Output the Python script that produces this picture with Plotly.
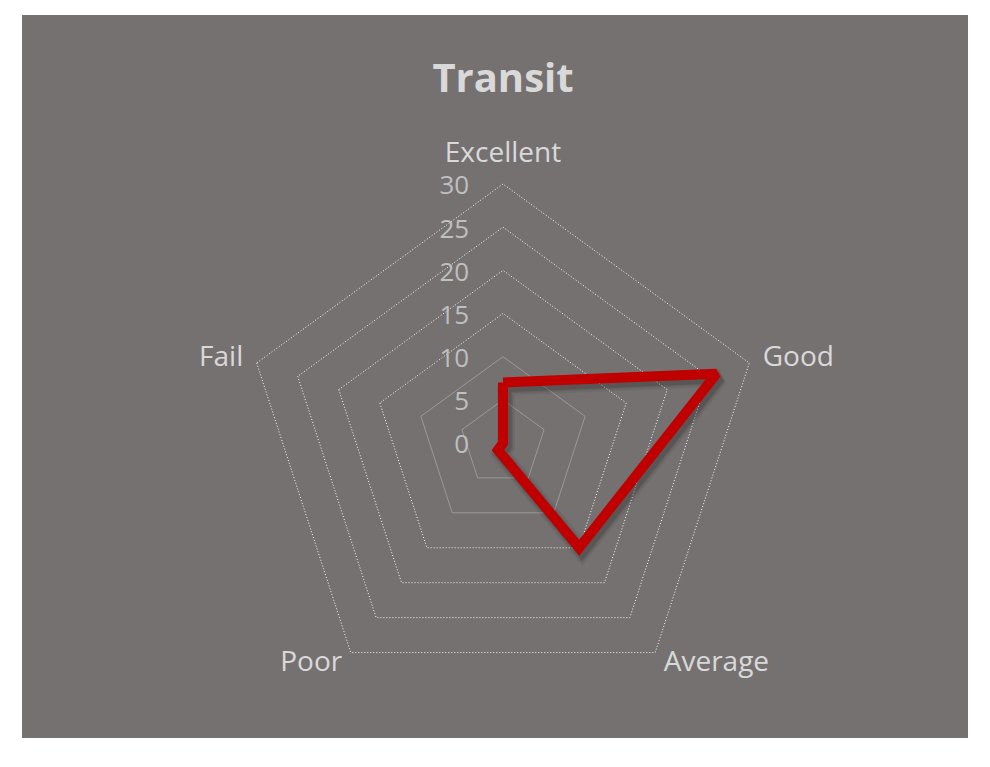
import plotly.graph_objects as go

categories = ["Excellent", "Good", "Average", "Poor", "Fail"]
values = [7, 26, 15, 1, 0]
radial_ticks = [0, 5, 10, 15, 20, 25, 30]
radial_tick_labels = ["\u20070", "\u20075", "10", "15", "20", "25", "30"]
solid_grid_ticks = [5, 10]
dotted_grid_ticks = [15, 20, 25, 30]
label_groups = [["Excellent"], ["Good", "Fail"], ["Average", "Poor"]]

OFF = 8  # default body margin of the html page
W, H = 990 - 2 * OFF, 767 - 2 * OFF
ml, mt = 22 - OFF, 15 - OFF
mr = W - (968 - OFF)
mb = H - (738 - OFF)
pw, ph = W - ml - mr, H - mt - mb
RMAX = 30
RMAX_GRID = 30.25          # so that the 30 gridline is not clipped at the edge
cx, cy = 503 - OFF, 443 - OFF
R = 259                    # pixel radius of the value 30


def fx(px):
    return (px - ml) / pw


def fy(py):
    return (H - mb - py) / ph


def dom(dx=0, dy=0, rad=R):
    return dict(x=[fx(cx - rad + dx), fx(cx + rad + dx)],
                y=[fy(cy + rad + dy), fy(cy - rad + dy)])


r_closed = values + values[:1]
t_closed = categories + categories[:1]

fig = go.Figure()


def ghost(sp):
    # invisible trace so the categorical angular axis knows its categories
    fig.add_trace(go.Scatterpolar(r=values, theta=categories, subplot=sp, mode="markers",
                                  marker=dict(size=1, opacity=0), hoverinfo="skip",
                                  showlegend=False))


ghost("polar")
ghost("polar2")
for w, a in [(18, 0.06), (14, 0.08), (11, 0.12)]:
    fig.add_trace(go.Scatterpolar(
        r=r_closed, theta=t_closed, subplot="polar3",
        mode="lines", line=dict(color=f"rgba(0,0,0,{a})", width=w),
        hoverinfo="skip", showlegend=False))
fig.add_trace(go.Scatterpolar(
    r=r_closed, theta=t_closed, subplot="polar4",
    mode="lines", line=dict(color="#C00000", width=10),
    showlegend=False, name="Transit"))
for sp in ["polar5", "polar6", "polar7", "polar8"]:
    ghost(sp)

ang_hidden = dict(rotation=90, direction="clockwise", visible=False,
                  categoryarray=categories, categoryorder="array")


def grid_polar(ticks, color, dash):
    return dict(
        domain=dom(rad=R * RMAX_GRID / RMAX), bgcolor="rgba(0,0,0,0)", gridshape="linear",
        radialaxis=dict(range=[0, RMAX_GRID], tickvals=ticks, showticklabels=False,
                        showline=False, ticks="", gridcolor=color, griddash=dash,
                        gridwidth=1),
        angularaxis=ang_hidden,
    )


def label_polar(group, domain, ticklen):
    return dict(
        domain=domain, bgcolor="rgba(0,0,0,0)", gridshape="linear",
        radialaxis=dict(range=[0, RMAX], visible=False),
        angularaxis=dict(rotation=90, direction="clockwise", showgrid=False,
                         categoryarray=categories, categoryorder="array",
                         tickmode="array", tickvals=categories,
                         ticktext=[c if c in group else "" for c in categories],
                         showline=False, ticks="outside" if ticklen else "",
                         ticklen=max(ticklen, 1), tickcolor="rgba(0,0,0,0)",
                         tickfont=dict(size=28, color="#D9D9D9")),
    )


fig.update_layout(
    width=W, height=H,
    margin=dict(l=ml, r=mr, t=mt, b=mb),
    paper_bgcolor="white",
    font=dict(family="Open Sans, Noto Sans, sans-serif", color="#D9D9D9"),
    title=dict(text="<b>Transit</b>", x=fx(503 - OFF), xref="paper", xanchor="center",
               y=1 - (78 - OFF) / H, yanchor="middle", font=dict(size=40, color="#D9D9D9")),
    shapes=[dict(type="rect", xref="paper", yref="paper", x0=0, x1=1, y0=0, y1=1,
                 fillcolor="#767171", line=dict(width=0), layer="below")],
    polar=grid_polar(solid_grid_ticks, "rgba(200,200,200,0.45)", "solid"),
    polar2=grid_polar(dotted_grid_ticks, "rgba(255,255,255,0.95)", "1px,2px"),
    polar3=dict(domain=dom(3, 4), bgcolor="rgba(0,0,0,0)", gridshape="linear",
                radialaxis=dict(range=[0, RMAX], visible=False), angularaxis=ang_hidden),
    polar4=dict(domain=dom(), bgcolor="rgba(0,0,0,0)", gridshape="linear",
                radialaxis=dict(range=[0, RMAX], visible=False), angularaxis=ang_hidden),
    polar5=dict(
        domain=dom(-64, 2), bgcolor="rgba(0,0,0,0)", gridshape="linear",
        radialaxis=dict(range=[0, RMAX], tickvals=radial_ticks, ticktext=radial_tick_labels,
                        angle=90, tickangle=90, showgrid=False, showline=False, ticks="",
                        tickfont=dict(size=26, color="#BFBFBF")),
        angularaxis=ang_hidden,
    ),
    polar6=label_polar(label_groups[0], dom(), 10),
    polar7=label_polar(label_groups[1], dom(), 8),
    polar8=label_polar(label_groups[2], dom(0, -22, R + 14), 0),
)

fig.write_html("out.html")
